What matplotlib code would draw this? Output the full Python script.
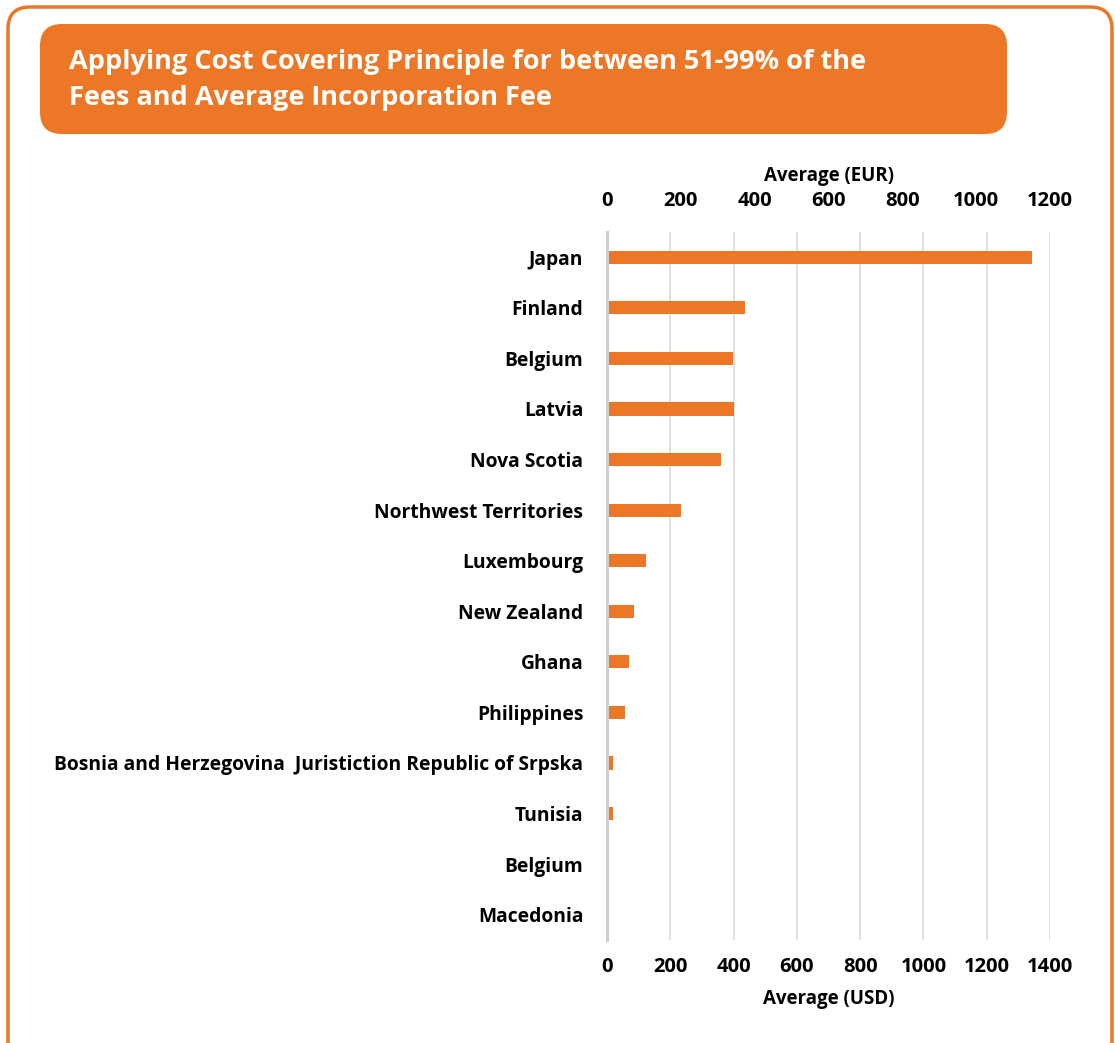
import matplotlib.pyplot as plt
from matplotlib.patches import FancyBboxPatch

# incorporation fee averages, largest first
countries = [
    "Japan", "Finland", "Belgium", "Latvia", "Nova Scotia",
    "Northwest Territories", "Luxembourg", "New Zealand", "Ghana",
    "Philippines", "Bosnia and Herzegovina  Juristiction Republic of Srpska",
    "Tunisia", "Belgium", "Macedonia",
]
avg_usd = [1339, 434, 396, 399, 357, 231, 121, 83, 67, 55, 17, 17, 0, 0]

usd_ticks = [0, 200, 400, 600, 800, 1000, 1200, 1400]
eur_ticks = [0, 200, 400, 600, 800, 1000, 1200]

ORANGE = "#EB7727"
GRID = "#D9D9D9"
FONT = "Open Sans"

W, H = 1115, 1043
fig = plt.figure(figsize=(W / 100, H / 100), dpi=100)

# rounded outer frame and title banner, laid out in pixel units
bg = fig.add_axes([0, 0, 1, 1])
bg.set_xlim(0, W)
bg.set_ylim(H, 0)
bg.axis("off")
bg.add_patch(FancyBboxPatch((8, 7), 1104, 1060, boxstyle="round,pad=0,rounding_size=22",
                            fc="none", ec=ORANGE, lw=2.5, clip_on=False))
bg.add_patch(FancyBboxPatch((40, 24), 967, 110, boxstyle="round,pad=0,rounding_size=22",
                            fc=ORANGE, ec="none"))
bg.text(69, 80, "Applying Cost Covering Principle for between 51-99% of the\nFees and Average Incorporation Fee",
        color="white", fontsize=19.5, fontweight="bold", family=FONT,
        va="center", ha="left", linespacing=1.5)

left, right, top, bottom = 607, 1050, 232, 940
ax = fig.add_axes([left / W, 1 - bottom / H, (right - left) / W, (bottom - top) / H])

y = range(len(countries))
ax.barh(y, avg_usd, height=0.26, color=ORANGE, left=3)
ax.set_ylim(len(countries) - 0.5, -0.5)
ax.set_xlim(0, 1400)
ax.set_xticks(usd_ticks)
ax.set_yticks(list(y))
ax.set_yticklabels(countries, fontsize=13.85, fontweight="bold", family=FONT)
ax.grid(axis="x", color=GRID, lw=1.2)
ax.set_axisbelow(True)
for s in ["top", "right", "bottom"]:
    ax.spines[s].set_visible(False)
ax.spines["left"].set_color("#CFCFCF")
ax.spines["left"].set_linewidth(2.2)
ax.tick_params(axis="both", length=0)
ax.tick_params(axis="y", pad=17)
ax.tick_params(axis="x", pad=12)
for t in ax.get_xticklabels():
    t.set_fontsize(14.5)
    t.set_fontweight("bold")
    t.set_family(FONT)
ax.set_xlabel("Average (USD)", fontsize=13.5, fontweight="bold", family=FONT, labelpad=9)

# secondary scale in EUR over the same span
top_ax = ax.twiny()
top_ax.set_xlim(0, 1200)
top_ax.set_xticks(eur_ticks)
top_ax.tick_params(axis="x", length=0, pad=15)
for t in top_ax.get_xticklabels():
    t.set_fontsize(14.5)
    t.set_fontweight("bold")
    t.set_family(FONT)
for s in top_ax.spines.values():
    s.set_visible(False)
top_ax.set_xlabel("Average (EUR)", fontsize=13.5, fontweight="bold", family=FONT, labelpad=7)

fig.savefig("out.png", dpi=100)
